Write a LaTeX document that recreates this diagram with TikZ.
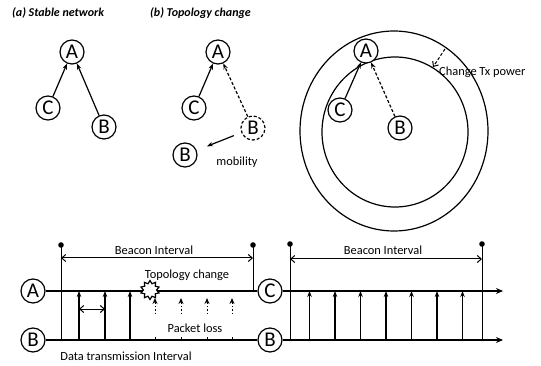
\documentclass[tikz,border=0pt]{standalone}
\usepackage{fontspec}
\setmainfont{Carlito}
\usetikzlibrary{arrows.meta,shapes.geometric}

\begin{document}
\begin{tikzpicture}[x=1pt,y=-1pt,
  nd/.style={circle,draw,line width=1.2pt,fill=white,minimum size=24pt,inner sep=0pt,
             font=\fontsize{21}{21}\selectfont},
  lbl/.style={font=\fontsize{12.4}{14}\selectfont,inner sep=0pt},
  ttl/.style={font=\fontsize{12}{14}\selectfont\bfseries\itshape,inner sep=0pt,anchor=west},
  link/.style={line width=1.2pt,-{Stealth[length=6pt,width=4.5pt]}},
  dlink/.style={link,dash pattern=on 3pt off 2pt},
  tline/.style={line width=1.5pt},
  upar/.style={line width=1.3pt,-{Stealth[length=6pt,width=4.5pt]}},
  span/.style={line width=1pt,{Straight Barb[length=4pt,width=7pt]}-{Straight Barb[length=4pt,width=7pt]}},
  ring/.style={line width=1.2pt}
]
\useasboundingbox (0,0) rectangle (541,366);

% ---------- titles ----------
\node[ttl] (ta) at (12,13) {(a) Stable network};
\node[ttl] (tb) at (150,13) {(b) Topology change};

% ---------- (a) stable network ----------
\node[nd] (aA) at (72,52) {A};
\node[nd] (aC) at (48,108) {C};
\node[nd] (aB) at (104,127) {B};
\draw[link] (aC) -- (aA);
\draw[link] (aB) -- (aA);

% ---------- (b) topology change ----------
\node[nd] (bA) at (218,52) {A};
\node[nd] (bC) at (194,108) {C};
\node[nd,dash pattern=on 3pt off 2pt] (bBo) at (253,128) {B};
\node[nd] (bBn) at (185,155) {B};
\draw[link] (bC) -- (bA);
\draw[dlink] (bBo) -- (bA);
\draw[link,shorten <=8pt,shorten >=11pt] (bBo) -- (bBn);
\node[lbl] (mob) at (237,162) {mobility};

% ---------- transmission power change ----------
\draw[ring] (394,131) ellipse [x radius=94,y radius=100];
\draw[ring] (395,132) ellipse [x radius=73,y radius=75];
\node[nd] (cA) at (366,51) {A};
\node[nd] (cC) at (340,110) {C};
\node[nd] (cB) at (400,128) {B};
\draw[link] (cC) -- (cA);
\draw[dlink] (cB) -- (cA);
\coordinate (txs) at (445,49);
\coordinate (txe) at (433,67);
\draw[line width=1pt,dash pattern=on 3pt off 2pt,-{Straight Barb[length=4pt,width=7pt]}] (txs) -- (txe);
\node[lbl,anchor=west] (txl) at (439,72) {Change Tx power};

% ---------- timeline: link A <- B ----------
\node[nd] (lA) at (33,291) {A};
\node[nd] (lB) at (33,340) {B};
\node[nd] (rC) at (270,291) {C};
\node[nd] (rB) at (270,340) {B};
\draw[tline] (lA) -- (rC);
\draw[tline] (lB) -- (rB);

% beacon interval markers
\coordinate (lb0) at (61,245);  \coordinate (lb1) at (61,340);
\coordinate (lb2) at (253,245); \coordinate (lb3) at (253,291);
\draw[line width=1pt] (lb0) -- (lb1);
\draw[line width=1pt] (lb2) -- (lb3);
\fill (lb0) circle (2.8);
\fill (lb2) circle (2.8);
\coordinate (lsa) at (61,258); \coordinate (lsb) at (253,258);
\draw[span] (lsa) -- (lsb);
\node[lbl] (lbi) at (154,250) {Beacon Interval};

% delivered packets
\foreach \x [count=\i] in {79,105,130}{
  \coordinate (lpb\i) at (\x,340);
  \coordinate (lpt\i) at (\x,291);
  \draw[upar] (lpb\i) -- (lpt\i);
}
\coordinate (dta) at (79,309); \coordinate (dtb) at (105,309);
\draw[span] (dta) -- (dtb);
\node[lbl] (dti) at (126,356) {Data transmission Interval};

% topology change and lost packets
\node[star,star points=10,star point ratio=1.45,draw,fill=white,line width=1.2pt,
      minimum size=19pt,inner sep=0pt] (burst) at (150,290) {};
\node[lbl] (tcl) at (187,275) {Topology change};
\foreach \x [count=\i] in {155,181,207,232}{
  \coordinate (lkb\i) at (\x,340);
  \coordinate (lkt\i) at (\x,336.5);
  \draw[line width=0.9pt] (lkb\i) -- (lkt\i);
  \coordinate (plb\i) at (\x,314);
  \coordinate (plt\i) at (\x,298);
  \draw[line width=1pt,dash pattern=on 1.5pt off 2pt,-{Stealth[length=6pt,width=5pt]}] (plb\i) -- (plt\i);
}
\node[lbl] (pll) at (195,328) {Packet loss};

% ---------- timeline: link C <- B ----------
\coordinate (rCe) at (503,291);
\coordinate (rBe) at (503,340);
\draw[tline,-{Stealth[length=7pt,width=6pt]}] (rC) -- (rCe);
\draw[tline,-{Stealth[length=7pt,width=6pt]}] (rB) -- (rBe);
\coordinate (rb0) at (290,244); \coordinate (rb1) at (290,340);
\coordinate (rb2) at (482,244); \coordinate (rb3) at (482,340);
\draw[line width=1pt] (rb0) -- (rb1);
\draw[line width=1pt] (rb2) -- (rb3);
\fill (rb0) circle (2.8);
\fill (rb2) circle (2.8);
\coordinate (rsa) at (290,259); \coordinate (rsb) at (482,259);
\draw[span] (rsa) -- (rsb);
\node[lbl] (rbi) at (383,250) {Beacon Interval};
\foreach \k in {0,...,6}{
  \coordinate (rpb\k) at ({309.5+25.5*\k},340);
  \coordinate (rpt\k) at ({309.5+25.5*\k},291);
  \draw[upar] (rpb\k) -- (rpt\k);
}
\end{tikzpicture}
\end{document}
